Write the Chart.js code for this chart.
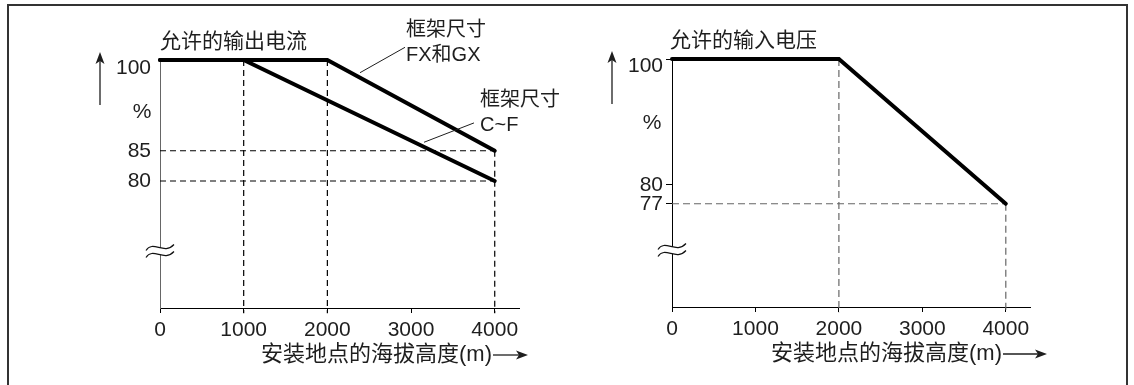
<!DOCTYPE html>
<html>
<head>
<meta charset="utf-8">
<script src="https://cdn.jsdelivr.net/npm/chart.js@4.4.1/dist/chart.umd.min.js"></script>
<style>
html, body { margin: 0; padding: 0; background: #fff; }
#wrap { position: relative; width: 1134px; height: 385px; overflow: hidden; background: #fff; }
#frame { position: absolute; left: 7px; top: 4px; width: 1121px; height: 420px; border: 2px solid #333; box-sizing: border-box; }
canvas { position: absolute; top: 0; }
</style>
</head>
<body>
<div id="wrap">
  <div id="frame"></div>
  <canvas id="current" width="567" height="385" style="left:0"></canvas>
  <canvas id="voltage" width="567" height="385" style="left:567px"></canvas>
</div>
<script>
// altitude of the site, m
const altitudeTicks = [0, 1000, 2000, 3000, 4000];

// allowed output current, %
const fxgxAltitude = [0, 2000, 4000];
const fxgxCurrent = [100, 100, 85];
const cfAltitude = [0, 1000, 4000];
const cfCurrent = [100, 100, 80];
const currentTicks = [100, 85, 80];

// allowed input voltage, %
const voltageAltitude = [0, 2000, 4000];
const inputVoltage = [100, 100, 77];
const voltageTicks = [100, 80, 77];

const mixFont = '"Liberation Sans", "Noto Sans CJK SC", sans-serif';
const ink = '#1e1e1e';

function toPoints(xs, ys) {
    return xs.map((x, i) => ({ x: x, y: ys[i] }));
}

// dashed helper lines: verticals at every knee/end, horizontals at end values
function guideSets(series, yBottom, color, dash) {
    const out = [];
    const knees = [];
    series.forEach(s => s.slice(1).forEach(p => { if (!knees.includes(p.x)) knees.push(p.x); }));
    knees.forEach(kx => {
        const top = Math.max(...series.flatMap(s => s.filter(p => p.x === kx).map(p => p.y)));
        out.push([{ x: kx, y: top }, { x: kx, y: yBottom }]);
    });
    series.forEach(s => {
        const end = s[s.length - 1];
        out.push([{ x: 0, y: end.y }, { x: end.x, y: end.y }]);
    });
    return out.map(d => ({
        data: d, borderColor: color, borderWidth: 1.2, borderDash: dash, clip: false
    }));
}

function arrow(ctx, x1, y1, x2, y2) {
    const ang = Math.atan2(y2 - y1, x2 - x1);
    const c = Math.cos(ang), s = Math.sin(ang);
    const len = 12, half = 4.5;
    ctx.beginPath();
    ctx.moveTo(x1, y1);
    ctx.lineTo(x2 - c * len * 0.7, y2 - s * len * 0.7);
    ctx.stroke();
    ctx.beginPath();
    ctx.moveTo(x2, y2);
    ctx.lineTo(x2 - c * len + s * half, y2 - s * len - c * half);
    ctx.lineTo(x2 - c * len * 0.75, y2 - s * len * 0.75);
    ctx.lineTo(x2 - c * len - s * half, y2 - s * len + c * half);
    ctx.closePath();
    ctx.fill();
}

function wave(ctx, bx, by, move) {
    if (move) ctx.moveTo(bx - 14, by + 3);
    ctx.bezierCurveTo(bx - 7, by - 8, bx + 4, by + 8, bx + 14, by - 3);
}

// titles, arrows, axis break and callouts
const decor = {
    id: 'decor',
    afterDraw(chart, args, o) {
        const { ctx, chartArea: a, scales: { x, y } } = chart;
        ctx.save();

        // axis break mark: white band between two waves
        const bx = a.left, by = a.top + o.breakDy;
        ctx.fillStyle = '#fff';
        ctx.beginPath();
        wave(ctx, bx, by - 3.5, true);
        ctx.lineTo(bx + 14, by + 0.5);
        ctx.bezierCurveTo(bx + 4, by + 11.5, bx - 7, by - 4.5, bx - 14, by + 6.5);
        ctx.closePath();
        ctx.fill();
        ctx.strokeStyle = '#111';
        ctx.lineWidth = 1.2;
        [-3.5, 3.5].forEach(off => {
            ctx.beginPath();
            wave(ctx, bx, by + off, true);
            ctx.stroke();
        });

        ctx.fillStyle = ink;
        ctx.strokeStyle = ink;
        ctx.textBaseline = 'middle';
        ctx.textAlign = 'left';
        ctx.font = '21px ' + mixFont;
        ctx.fillText(o.title, a.left + o.titleDx, a.top - 18);

        ctx.font = '22px ' + mixFont;
        const tx = a.left + o.xTitleDx, ty = a.bottom + 47;
        ctx.fillText(o.xTitle, tx, ty);
        const tw = ctx.measureText(o.xTitle).width;
        ctx.lineWidth = 1.3;
        arrow(ctx, tx + tw + 1, ty, a.left + o.xArrowDx, ty);

        arrow(ctx, a.left - 60, a.top + 45, a.left - 60, a.top - 8);
        ctx.font = '21px ' + mixFont;
        ctx.textAlign = 'center';
        ctx.fillText('%', a.left + o.pctDx, a.top + o.pctDy);

        ctx.textAlign = 'left';
        ctx.font = '20px ' + mixFont;
        (o.notes || []).forEach(n => {
            const nx = x.getPixelForValue(n.at[0]);
            const ny = y.getPixelForValue(n.at[1]);
            n.lines.forEach((t, i) => ctx.fillText(t, nx, ny + i * 25));
            ctx.lineWidth = 1;
            ctx.beginPath();
            ctx.moveTo(x.getPixelForValue(n.lead[0][0]), y.getPixelForValue(n.lead[0][1]));
            ctx.lineTo(x.getPixelForValue(n.lead[1][0]), y.getPixelForValue(n.lead[1][1]));
            ctx.stroke();
        });
        ctx.restore();
    }
};

function makeChart(id, series, o) {
    const main = series.map(s => ({
        data: s, borderColor: '#000', borderWidth: 4, clip: false,
        borderCapStyle: 'round', borderJoinStyle: 'miter'
    }));
    const guides = guideSets(series, o.yMin - 0.85, o.guideColor, o.dash);
    const tickFont = { family: mixFont, size: 21 };
    return new Chart(document.getElementById(id).getContext('2d'), {
        type: 'line',
        data: { datasets: main.concat(guides) },
        options: {
            responsive: false,
            animation: false,
            devicePixelRatio: 1,
            layout: { padding: { left: 0, right: o.padRight, top: o.padTop, bottom: 0 } },
            elements: { point: { radius: 0 }, line: { tension: 0 } },
            plugins: {
                legend: { display: false },
                tooltip: { enabled: false },
                decor: o.decor
            },
            scales: {
                x: {
                    type: 'linear', min: 0, max: 4290,
                    afterBuildTicks: s => { s.ticks = altitudeTicks.map(v => ({ value: v })); },
                    afterFit: s => { s.height = o.xHeight; },
                    border: { color: '#000', width: 1 },
                    grid: { drawOnChartArea: false, drawTicks: true, tickLength: 5, color: '#000' },
                    ticks: {
                        padding: 5, color: ink, font: tickFont, maxRotation: 0, autoSkip: false,
                        callback: v => String(v)
                    }
                },
                y: {
                    type: 'linear', min: o.yMin, max: 100,
                    afterBuildTicks: s => { s.ticks = o.yTicks.map(v => ({ value: v })); },
                    afterFit: s => { s.width = o.yWidth; },
                    border: { color: o.yAxisColor, width: 1 },
                    grid: { drawOnChartArea: false, drawTicks: o.yTickLen > 0, tickLength: o.yTickLen, color: '#000' },
                    ticks: {
                        padding: o.yPad, color: ink, autoSkip: false,
                        // 100 sits a little below the thick line
                        callback: v => v === 100 ? ['', '100'] : String(v),
                        font: c => (c.tick && c.tick.value === 100)
                            ? { family: mixFont, size: 21, lineHeight: o.topShift * 2 / 21 }
                            : tickFont
                    }
                }
            }
        },
        plugins: [decor]
    });
}

makeChart('current', [toPoints(fxgxAltitude, fxgxCurrent), toPoints(cfAltitude, cfCurrent)], {
    yMin: 59, yTicks: currentTicks, yWidth: 160, padRight: 48, padTop: 60, xHeight: 77,
    yAxisColor: '#666', yTickLen: 0, yPad: 9, topShift: 8,
    guideColor: '#000', dash: [6, 4],
    decor: {
        title: '允许的输出电流', titleDx: 0,
        xTitle: '安装地点的海拔高度(m)', xTitleDx: 101, xArrowDx: 368,
        pctDx: -18, pctDy: 52, breakDy: 191,
        notes: [
            { lines: ['框架尺寸', 'FX和GX'], at: [2940, 104.8], lead: [[2390, 97.9], [2928, 102.1]] },
            { lines: ['框架尺寸', 'C~F'], at: [3824, 93.3], lead: [[3155, 86.4], [3752, 89.6]] }
        ]
    }
});

makeChart('voltage', [toPoints(voltageAltitude, inputVoltage)], {
    yMin: 60.6, yTicks: voltageTicks, yWidth: 105, padRight: 104, padTop: 59, xHeight: 78,
    yAxisColor: '#000', yTickLen: 6, yPad: 3, topShift: 7,
    guideColor: '#666', dash: [7, 4],
    decor: {
        title: '允许的输入电压', titleDx: -2,
        xTitle: '安装地点的海拔高度(m)', xTitleDx: 99, xArrowDx: 375,
        pctDx: -20, pctDy: 64, breakDy: 191
    }
});
</script>
</body>
</html>
